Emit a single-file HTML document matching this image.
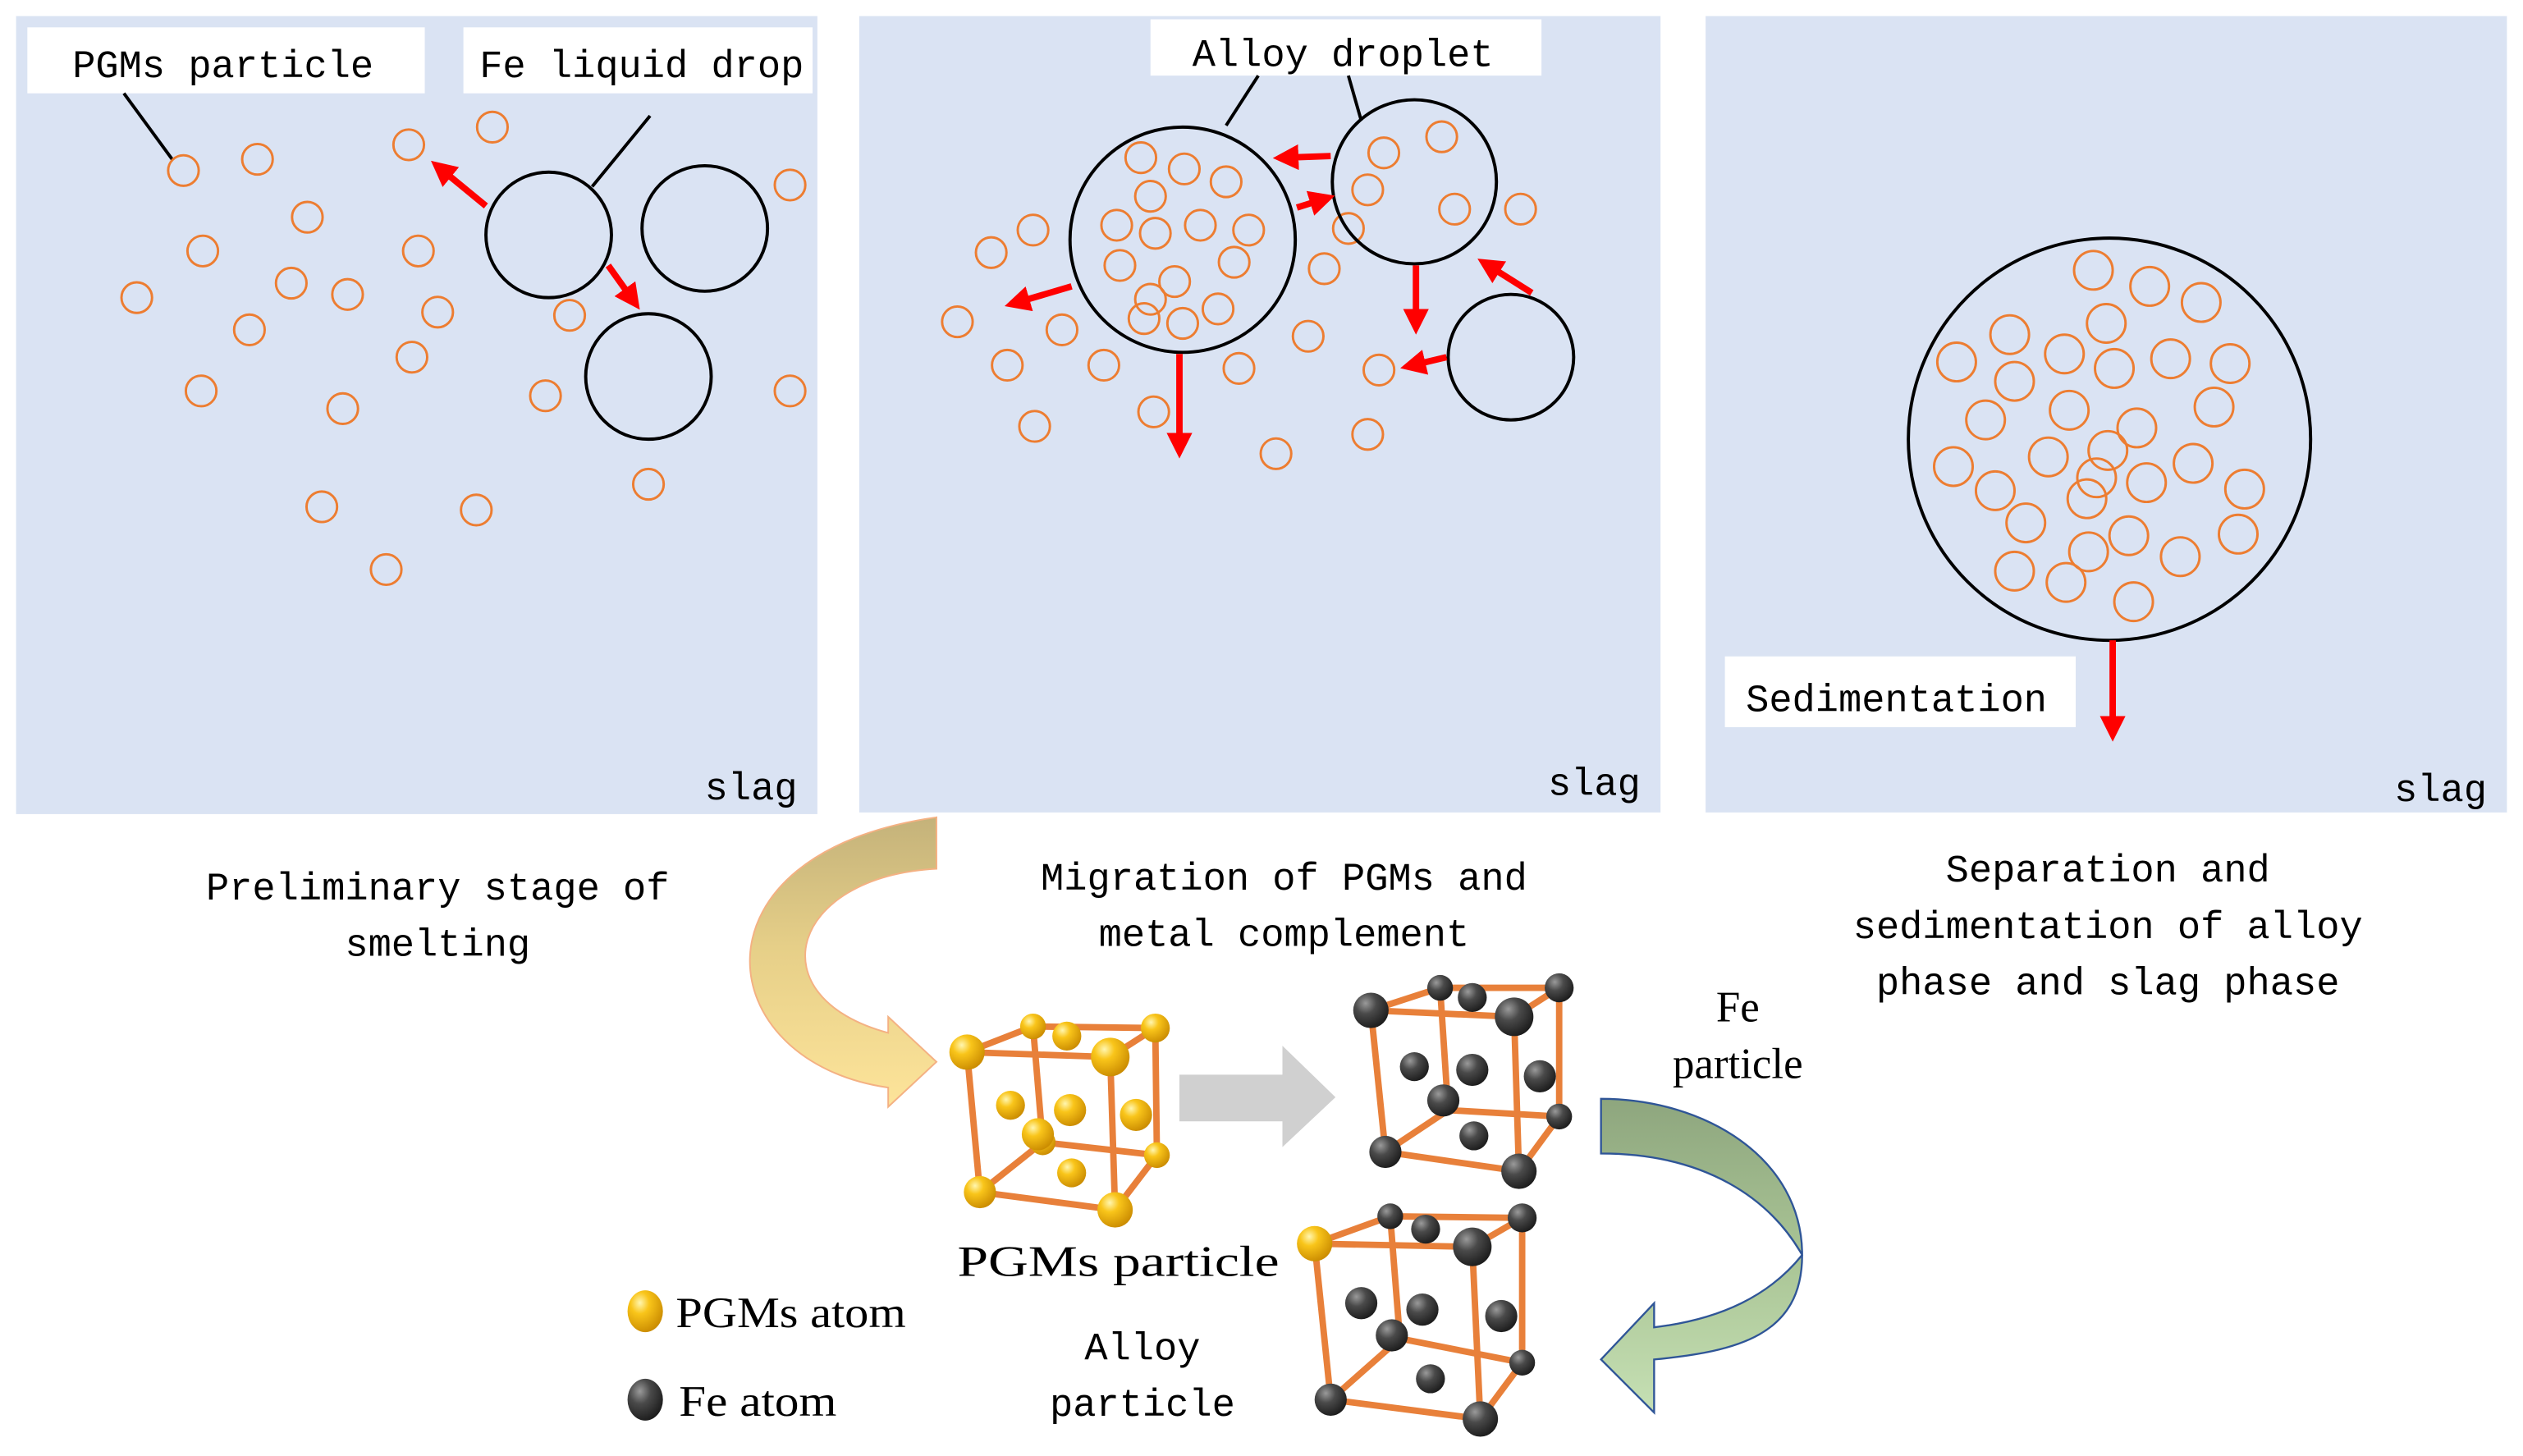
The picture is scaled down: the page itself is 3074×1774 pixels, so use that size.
<!DOCTYPE html>
<html><head><meta charset="utf-8"><style>html,body{margin:0;padding:0;background:#fff}svg{display:block}</style></head>
<body>
<svg width="3074" height="1774" viewBox="0 0 1568 905" preserveAspectRatio="none" xmlns="http://www.w3.org/2000/svg">
<defs>
<radialGradient id="gy" cx="0.35" cy="0.3" r="0.75"><stop offset="0" stop-color="#fff6b0"/><stop offset="0.35" stop-color="#f9c51a"/><stop offset="1" stop-color="#c98a00"/></radialGradient>
<radialGradient id="gk" cx="0.35" cy="0.3" r="0.75"><stop offset="0" stop-color="#9a9a9a"/><stop offset="0.4" stop-color="#4a4a4a"/><stop offset="1" stop-color="#1a1a1a"/></radialGradient>
<linearGradient id="tan" x1="0" y1="0" x2="0" y2="1"><stop offset="0" stop-color="#c4b27a"/><stop offset="0.45" stop-color="#e6cf88"/><stop offset="1" stop-color="#fde49a"/></linearGradient>
<linearGradient id="grn" x1="0" y1="0" x2="0" y2="1"><stop offset="0" stop-color="#8ea67e"/><stop offset="0.5" stop-color="#a9c495"/><stop offset="1" stop-color="#c6e0b4"/></linearGradient>
<marker id="ar" markerWidth="4" markerHeight="4" refX="2" refY="2" orient="auto" markerUnits="strokeWidth"><path d="M0,0 L4,2 L0,4 Z" fill="#ff0000"/></marker>
</defs>
<style>
.p{fill:#dae3f3}
.o{fill:none;stroke:#ed7d31;stroke-width:1.5}
.b{fill:none;stroke:#000;stroke-width:2}
.r{stroke:#ff0000;stroke-width:4;marker-end:url(#ar)}
.m{font-family:"Liberation Mono",monospace;font-size:24px;fill:#000}
.s{font-family:"Liberation Serif",serif;font-size:27px;fill:#000}
.e{stroke:#e8803a;stroke-width:4;stroke-linecap:round}
</style>
<rect class="p" x="10" y="10" width="498" height="496"/>
<rect class="p" x="534" y="10" width="498" height="495"/>
<rect class="p" x="1060" y="10" width="498" height="495"/>

<rect x="17" y="17" width="247" height="41" fill="#fff"/>
<rect x="288" y="17" width="217" height="41" fill="#fff"/>
<text class="m" x="45" y="48">PGMs particle</text>
<text class="m" x="298" y="48">Fe liquid drop</text>
<line x1="77" y1="58" x2="107" y2="99" stroke="#000" stroke-width="2"/>
<line x1="404" y1="72" x2="368" y2="116" stroke="#000" stroke-width="2"/>
<g class="o">
<circle cx="114" cy="106" r="9.5"/><circle cx="160" cy="99" r="9.5"/><circle cx="254" cy="90" r="9.5"/><circle cx="306" cy="79" r="9.5"/><circle cx="491" cy="115" r="9.5"/><circle cx="191" cy="135" r="9.5"/><circle cx="126" cy="156" r="9.5"/><circle cx="260" cy="156" r="9.5"/><circle cx="85" cy="185" r="9.5"/><circle cx="181" cy="176" r="9.5"/><circle cx="216" cy="183" r="9.5"/><circle cx="272" cy="194" r="9.5"/><circle cx="354" cy="196" r="9.5"/><circle cx="155" cy="205" r="9.5"/><circle cx="256" cy="222" r="9.5"/><circle cx="125" cy="243" r="9.5"/><circle cx="213" cy="254" r="9.5"/><circle cx="339" cy="246" r="9.5"/><circle cx="491" cy="243" r="9.5"/><circle cx="403" cy="301" r="9.5"/><circle cx="200" cy="315" r="9.5"/><circle cx="296" cy="317" r="9.5"/><circle cx="240" cy="354" r="9.5"/>
</g>
<g class="b"><circle cx="341" cy="146" r="39"/><circle cx="438" cy="142" r="39"/><circle cx="403" cy="234" r="39"/></g>
<line class="r" x1="302" y1="128" x2="274" y2="105"/>
<line class="r" x1="378" y1="165" x2="393" y2="186"/>
<text class="m" x="438" y="497">slag</text>

<rect x="715" y="12" width="243" height="35" fill="#fff"/>
<text class="m" x="741" y="41">Alloy droplet</text>
<line x1="782" y1="47" x2="762" y2="78" stroke="#000" stroke-width="2"/>
<line x1="838" y1="47" x2="846" y2="75" stroke="#000" stroke-width="2"/>
<g class="o">
<circle cx="709" cy="98" r="9.5"/><circle cx="736" cy="105" r="9.5"/><circle cx="762" cy="113" r="9.5"/><circle cx="715" cy="122" r="9.5"/><circle cx="694" cy="140" r="9.5"/><circle cx="718" cy="145" r="9.5"/><circle cx="746" cy="140" r="9.5"/><circle cx="776" cy="143" r="9.5"/><circle cx="696" cy="165" r="9.5"/><circle cx="730" cy="175" r="9.5"/><circle cx="767" cy="163" r="9.5"/><circle cx="715" cy="186" r="9.5"/><circle cx="757" cy="192" r="9.5"/><circle cx="711" cy="198" r="9.5"/><circle cx="735" cy="201" r="9.5"/>
<circle cx="860" cy="95" r="9.5"/><circle cx="896" cy="85" r="9.5"/><circle cx="850" cy="118" r="9.5"/><circle cx="904" cy="130" r="9.5"/><circle cx="838" cy="142" r="9.5"/>
<circle cx="642" cy="143" r="9.5"/><circle cx="616" cy="157" r="9.5"/><circle cx="595" cy="200" r="9.5"/><circle cx="660" cy="205" r="9.5"/><circle cx="626" cy="227" r="9.5"/><circle cx="686" cy="227" r="9.5"/><circle cx="643" cy="265" r="9.5"/><circle cx="717" cy="256" r="9.5"/><circle cx="770" cy="229" r="9.5"/><circle cx="813" cy="209" r="9.5"/><circle cx="823" cy="167" r="9.5"/><circle cx="857" cy="230" r="9.5"/><circle cx="850" cy="270" r="9.5"/><circle cx="793" cy="282" r="9.5"/><circle cx="945" cy="130" r="9.5"/>
</g>
<g class="b"><circle cx="735" cy="149" r="70"/><circle cx="879" cy="113" r="51"/><circle cx="939" cy="222" r="39"/></g>
<line class="r" x1="827" y1="97" x2="799" y2="98"/>
<line class="r" x1="806" y1="129" x2="822" y2="124"/>
<line class="r" x1="666" y1="178" x2="632" y2="188"/>
<line class="r" x1="733" y1="220" x2="733" y2="277"/>
<line class="r" x1="880" y1="165" x2="880" y2="200"/>
<line class="r" x1="899" y1="222" x2="878" y2="227"/>
<line class="r" x1="952" y1="182" x2="925" y2="165"/>
<text class="m" x="962" y="494">slag</text>

<g class="o">
<circle cx="1301" cy="168" r="12"/><circle cx="1336" cy="178" r="12"/><circle cx="1368" cy="188" r="12"/><circle cx="1249" cy="208" r="12"/><circle cx="1309" cy="201" r="12"/><circle cx="1216" cy="225" r="12"/><circle cx="1252" cy="237" r="12"/><circle cx="1283" cy="220" r="12"/><circle cx="1314" cy="229" r="12"/><circle cx="1349" cy="223" r="12"/><circle cx="1386" cy="226" r="12"/><circle cx="1234" cy="261" r="12"/><circle cx="1286" cy="255" r="12"/><circle cx="1328" cy="266" r="12"/><circle cx="1376" cy="253" r="12"/><circle cx="1214" cy="290" r="12"/><circle cx="1240" cy="305" r="12"/><circle cx="1273" cy="284" r="12"/><circle cx="1310" cy="280" r="12"/><circle cx="1303" cy="297" r="12"/><circle cx="1334" cy="300" r="12"/><circle cx="1363" cy="288" r="12"/><circle cx="1395" cy="304" r="12"/><circle cx="1259" cy="325" r="12"/><circle cx="1297" cy="310" r="12"/><circle cx="1298" cy="343" r="12"/><circle cx="1323" cy="333" r="12"/><circle cx="1355" cy="346" r="12"/><circle cx="1391" cy="332" r="12"/><circle cx="1252" cy="355" r="12"/><circle cx="1284" cy="362" r="12"/><circle cx="1326" cy="374" r="12"/>
</g>
<circle class="b" cx="1311" cy="273" r="125"/>
<line class="r" x1="1313" y1="398" x2="1313" y2="453"/>
<rect x="1072" y="408" width="218" height="44" fill="#fff"/>
<text class="m" x="1085" y="442">Sedimentation</text>
<text class="m" x="1488" y="498">slag</text>

<g class="m" text-anchor="middle">
<text x="272" y="559">Preliminary stage of</text>
<text x="272" y="594">smelting</text>
<text x="798" y="553">Migration of PGMs and</text>
<text x="798" y="588">metal complement</text>
<text x="1310" y="548">Separation and</text>
<text x="1310" y="583">sedimentation of alloy</text>
<text x="1310" y="618">phase and slag phase</text>
</g>

<path d="M582,508 L582,540 C490,545 470,620 552,642 L552,632 L582,660 L552,688 L552,676 C440,660 425,530 582,508 Z" fill="url(#tan)" stroke="#f4b183" stroke-width="1"/>
<path d="M733,668 L797,668 L797,650 L830,682 L797,713 L797,697 L733,697 Z" fill="#d0d0d0"/>
<path d="M995,683 C1060,683 1120,720 1120,780 C1120,830 1080,840 1028,845 L1028,878 L995,845 L1028,810 L1028,825 C1070,820 1100,805 1120,780 C1100,745 1060,717 995,717 Z" fill="url(#grn)" stroke="#2f5597" stroke-width="1.2"/>

<g class="e">
<line x1="642" y1="638" x2="718" y2="639"/><line x1="642" y1="638" x2="648" y2="710"/><line x1="718" y1="639" x2="719" y2="718"/><line x1="648" y1="710" x2="719" y2="718"/><line x1="648" y1="710" x2="609" y2="741"/><line x1="719" y1="718" x2="693" y2="752"/>
<line x1="601" y1="654" x2="642" y2="638"/><line x1="690" y1="657" x2="718" y2="639"/>
<line x1="601" y1="654" x2="690" y2="657"/><line x1="601" y1="654" x2="609" y2="741"/><line x1="690" y1="657" x2="693" y2="752"/><line x1="609" y1="741" x2="693" y2="752"/>
</g>
<g fill="url(#gy)">
<circle cx="642" cy="638" r="8"/><circle cx="718" cy="639" r="9"/><circle cx="663" cy="644" r="9"/><circle cx="648" cy="710" r="8"/><circle cx="719" cy="718" r="8"/>
<circle cx="628" cy="687" r="9"/><circle cx="665" cy="690" r="10"/><circle cx="706" cy="693" r="10"/><circle cx="645" cy="705" r="10"/><circle cx="666" cy="729" r="9"/>
<circle cx="601" cy="654" r="11"/><circle cx="690" cy="657" r="12"/><circle cx="609" cy="741" r="10"/><circle cx="693" cy="752" r="11"/>
</g>
<g class="e">
<line x1="895" y1="614" x2="969" y2="614"/><line x1="895" y1="614" x2="900" y2="690"/><line x1="969" y1="614" x2="969" y2="694"/><line x1="900" y1="690" x2="969" y2="694"/><line x1="900" y1="690" x2="861" y2="716"/><line x1="969" y1="694" x2="944" y2="728"/>
<line x1="852" y1="628" x2="895" y2="614"/><line x1="941" y1="632" x2="969" y2="614"/>
<line x1="852" y1="628" x2="941" y2="632"/><line x1="852" y1="628" x2="861" y2="716"/><line x1="941" y1="632" x2="944" y2="728"/><line x1="861" y1="716" x2="944" y2="728"/>
</g>
<g fill="url(#gk)">
<circle cx="895" cy="614" r="8"/><circle cx="969" cy="614" r="9"/><circle cx="915" cy="620" r="9"/><circle cx="969" cy="694" r="8"/>
<circle cx="879" cy="663" r="9"/><circle cx="915" cy="665" r="10"/><circle cx="957" cy="669" r="10"/><circle cx="897" cy="684" r="10"/><circle cx="916" cy="706" r="9"/>
<circle cx="852" cy="628" r="11"/><circle cx="941" cy="632" r="12"/><circle cx="861" cy="716" r="10"/><circle cx="944" cy="728" r="11"/>
</g>
<g class="e">
<line x1="864" y1="756" x2="946" y2="757"/><line x1="864" y1="756" x2="870" y2="832"/><line x1="946" y1="757" x2="946" y2="847"/><line x1="870" y1="832" x2="946" y2="847"/><line x1="870" y1="832" x2="827" y2="870"/><line x1="946" y1="847" x2="920" y2="882"/>
<line x1="817" y1="773" x2="864" y2="756"/><line x1="915" y1="775" x2="946" y2="757"/>
<line x1="817" y1="773" x2="915" y2="775"/><line x1="817" y1="773" x2="827" y2="870"/><line x1="915" y1="775" x2="920" y2="882"/><line x1="827" y1="870" x2="920" y2="882"/>
</g>
<g fill="url(#gk)">
<circle cx="864" cy="756" r="8"/><circle cx="946" cy="757" r="9"/><circle cx="886" cy="764" r="9"/><circle cx="946" cy="847" r="8"/>
<circle cx="846" cy="810" r="10"/><circle cx="884" cy="814" r="10"/><circle cx="933" cy="818" r="10"/><circle cx="865" cy="830" r="10"/><circle cx="889" cy="857" r="9"/>
<circle cx="915" cy="775" r="12"/><circle cx="827" cy="870" r="10"/><circle cx="920" cy="882" r="11"/>
</g>
<circle cx="817" cy="773" r="11" fill="url(#gy)"/>

<text class="s" x="595" y="793" textLength="200" lengthAdjust="spacingAndGlyphs">PGMs particle</text>
<text class="m" x="710" y="845" text-anchor="middle">Alloy</text>
<text class="m" x="710" y="880" text-anchor="middle">particle</text>
<text class="s" x="1080" y="635" text-anchor="middle">Fe</text>
<text class="s" x="1080" y="670" text-anchor="middle">particle</text>
<ellipse cx="401" cy="815" rx="11" ry="13" fill="url(#gy)"/>
<text class="s" x="420" y="825" textLength="143" lengthAdjust="spacingAndGlyphs">PGMs atom</text>
<ellipse cx="401" cy="870" rx="11" ry="13" fill="url(#gk)"/>
<text class="s" x="422" y="880" textLength="98" lengthAdjust="spacingAndGlyphs">Fe atom</text>
</svg>
</body></html>
